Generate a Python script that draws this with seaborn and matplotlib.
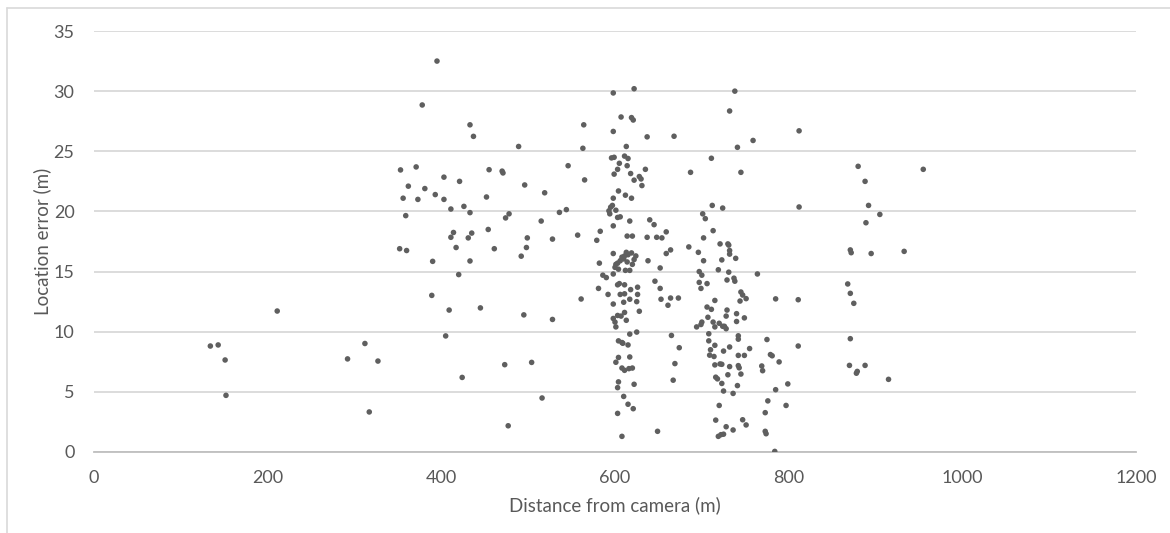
import matplotlib
matplotlib.use("Agg")
import matplotlib.pyplot as plt
from matplotlib.lines import Line2D
import seaborn as sns
import pandas as pd

# Distance from camera (m) and location error (m) for each detection
distance_m = [
    134, 143, 151, 152, 211, 292, 312, 327, 317,
    353, 356, 362, 371, 373, 381, 378, 395, 393, 403, 403, 359, 352, 360, 390, 389,
    405, 409, 411, 411, 414, 417, 420, 421, 426, 433, 431, 435, 433, 433, 437, 424,
    445, 452, 455, 454, 461, 470, 471, 473, 477, 474, 478, 489, 495, 492, 496, 499,
    498, 504, 515, 519, 516, 528, 528, 536, 544, 546, 557, 561, 564, 563, 565,
    579, 583, 582, 581, 586, 590, 592, 598, 598, 596, 599, 599, 593, 595, 597, 594,
    598, 603, 604, 601, 603, 606, 598, 598, 603, 601, 600, 598, 603, 598, 598, 600,
    601, 603, 604, 608, 601, 604, 604, 603, 603, 608, 607, 614, 605, 611, 615, 613,
    619, 621, 622, 618, 622, 628, 630, 631, 635, 637, 612, 619, 617, 614, 620, 610,
    611, 615, 619, 614, 612, 617, 606, 608, 622, 613, 604, 620, 624, 605, 611, 606,
    611, 618, 610, 617, 611, 607, 613, 609, 615, 617, 617, 608, 611, 616, 620, 610,
    615, 621, 622, 626, 626, 625, 628, 625,
    638, 640, 637, 645, 648, 646, 652, 652, 654, 659, 659, 653, 661, 664, 664, 649,
    665, 669, 673, 668, 667, 674,
    687, 685, 696, 694, 699, 700, 697, 697, 699, 700, 701, 704, 702, 702, 706, 706,
    707, 708, 708, 709, 710, 711, 712, 713, 715, 711, 713, 715, 715, 714, 715, 716,
    718, 716, 719, 722, 725, 720, 719, 720, 721, 721, 723, 724, 724, 725, 723, 725,
    723, 728, 726, 728, 728, 729, 729, 730, 731, 732, 732, 731, 732, 732, 730, 732,
    738, 737, 738, 739, 736, 736, 740, 740, 741, 742, 742, 741, 742, 742, 743, 744,
    745, 745, 745, 747, 749, 749, 747, 751, 751, 755, 759, 764, 769, 770,
    773, 776, 775, 773, 774, 779, 781, 785, 785, 789, 784, 797, 799,
    812, 812, 811, 811, 880, 955, 888, 892, 905, 889, 871, 872, 895, 933, 868, 871,
    875, 871, 870, 888, 878, 879, 915,
]

error_m = [
    8.81, 8.90, 7.65, 4.71, 11.72, 7.74, 9.02, 7.56, 3.33,
    23.45, 21.10, 22.10, 23.70, 21.00, 21.90, 28.85, 32.50, 21.40, 21.00, 22.85, 19.65, 16.90, 16.75, 15.85, 13.02,
    9.65, 11.80, 20.20, 17.85, 18.25, 17.00, 14.75, 22.50, 20.42, 19.90, 17.80, 18.20, 15.88, 27.20, 26.24, 6.20,
    11.98, 21.20, 23.47, 18.50, 16.90, 23.35, 23.20, 7.26, 2.18, 19.46, 19.80, 25.40, 11.40, 16.28, 22.20, 17.80,
    17.00, 7.45, 19.20, 21.55, 4.49, 17.70, 11.02, 19.92, 20.15, 23.80, 18.03, 12.72, 27.20, 25.25, 22.62,
    17.60, 18.35, 15.70, 13.60, 14.70, 14.50, 13.10, 29.85, 26.65, 24.45, 24.50, 23.10, 20.05, 20.35, 20.50, 19.80,
    21.10, 23.50, 21.70, 20.10, 19.50, 19.55, 18.80, 16.50, 15.70, 15.60, 15.35, 14.80, 13.90, 12.30, 11.10, 10.80,
    10.40, 11.35, 9.24, 9.10, 7.46, 7.86, 5.83, 5.35, 3.21, 1.30, 27.85, 23.80, 24.00, 24.60, 24.40, 25.40,
    27.80, 27.60, 30.20, 23.15, 22.60, 22.90, 22.70, 22.15, 23.50, 26.20, 21.35, 21.10, 19.20, 17.95, 17.95, 16.05,
    16.30, 16.40, 16.55, 15.80, 15.10, 15.10, 15.90, 16.20, 16.00, 16.60, 15.20, 15.60, 16.30, 14.00, 13.90, 13.10,
    13.15, 13.50, 12.45, 12.70, 11.60, 11.30, 10.95, 9.04, 8.90, 9.80, 7.90, 6.98, 6.79, 6.93, 6.98, 4.62,
    3.97, 3.60, 5.63, 13.70, 13.10, 12.50, 11.70, 9.97,
    15.90, 19.30, 17.85, 18.90, 17.85, 14.20, 13.60, 15.30, 17.80, 18.30, 16.50, 12.70, 12.20, 12.80, 16.80, 1.72,
    9.69, 7.35, 12.80, 26.25, 5.97, 8.67,
    23.25, 17.05, 16.60, 10.40, 10.60, 10.80, 15.00, 14.10, 13.60, 14.70, 19.80, 19.40, 17.80, 15.90, 14.00, 12.05,
    11.20, 9.83, 9.24, 8.05, 8.50, 24.42, 20.50, 18.40, 12.60, 11.86, 10.80, 10.40, 8.87, 7.94, 7.24, 6.22,
    6.08, 2.65, 1.30, 1.44, 1.48, 3.87, 15.15, 10.70, 17.30, 7.32, 15.97, 20.28, 10.45, 8.39, 7.29, 5.07,
    5.70, 2.10, 10.45, 10.25, 11.30, 14.30, 11.80, 17.30, 17.20, 16.45, 16.75, 14.95, 8.73, 7.10, 6.42, 28.35,
    30.00, 14.45, 14.20, 16.10, 4.87, 1.83, 11.50, 10.85, 25.33, 8.03, 7.18, 5.52, 9.66, 9.38, 7.00, 12.55,
    23.25, 6.48, 13.30, 13.05, 8.03, 11.15, 2.68, 2.25, 12.75, 8.60, 25.90, 14.80, 7.15, 6.76,
    3.27, 4.25, 9.35, 1.72, 1.52, 8.10, 8.00, 12.73, 5.18, 7.49, 0.05, 3.87, 5.66,
    26.70, 20.37, 12.66, 8.81, 23.75, 23.50, 22.50, 20.50, 19.75, 19.06, 16.80, 16.57, 16.50, 16.68, 13.97, 13.19,
    12.36, 9.42, 7.20, 7.20, 6.55, 6.70, 6.04,
]

x_ticks = [0, 200, 400, 600, 800, 1000, 1200]
y_ticks = [0, 5, 10, 15, 20, 25, 30, 35]

df = pd.DataFrame({"distance": distance_m, "error": error_m})

sns.set_theme(style="white")
plt.rcParams["font.family"] = ["Lato", "DejaVu Sans"]

text_grey = "#595959"
grid_grey = "#D9D9D9"

fig = plt.figure(figsize=(11.7, 5.33), dpi=100)
ax = fig.add_axes([94 / 1170, 1 - 452 / 533, (1136 - 94) / 1170, (452 - 31) / 533])

sns.scatterplot(data=df, x="distance", y="error", ax=ax, color="#5f5f5f",
                s=16, edgecolor="none", linewidth=0, zorder=3)

ax.set_xlim(0, 1200)
ax.set_ylim(0, 35)
ax.set_xticks(x_ticks)
ax.set_yticks(y_ticks)
ax.set_xticklabels([str(t) for t in x_ticks])
ax.set_yticklabels([str(t) for t in y_ticks])

ax.yaxis.grid(True, color=grid_grey, linewidth=1.3)
ax.xaxis.grid(False)
ax.set_axisbelow(True)
for side in ["top", "right", "left"]:
    ax.spines[side].set_visible(False)
ax.spines["bottom"].set_color("#BFBFBF")
ax.spines["bottom"].set_linewidth(1.3)

ax.tick_params(axis="both", length=0, labelsize=13, labelcolor=text_grey)
ax.tick_params(axis="y", pad=14)
ax.tick_params(axis="x", pad=13)

ax.set_xlabel("Distance from camera (m)", fontsize=13.5, color=text_grey)
ax.set_ylabel("Location error (m)", fontsize=13.5, color=text_grey)
ax.xaxis.set_label_coords(0.5, -0.105)
ax.yaxis.set_label_coords(-0.041, 0.5)

# thin frame around the chart area (top and left edges)
fig.add_artist(Line2D([7 / 1170, 1], [1 - 8 / 533, 1 - 8 / 533], transform=fig.transFigure,
                      color="#D9D9D9", linewidth=1.2))
fig.add_artist(Line2D([7 / 1170, 7 / 1170], [0, 1 - 8 / 533], transform=fig.transFigure,
                      color="#D9D9D9", linewidth=1.2))

fig.savefig("out.png", dpi=100, facecolor="white")
